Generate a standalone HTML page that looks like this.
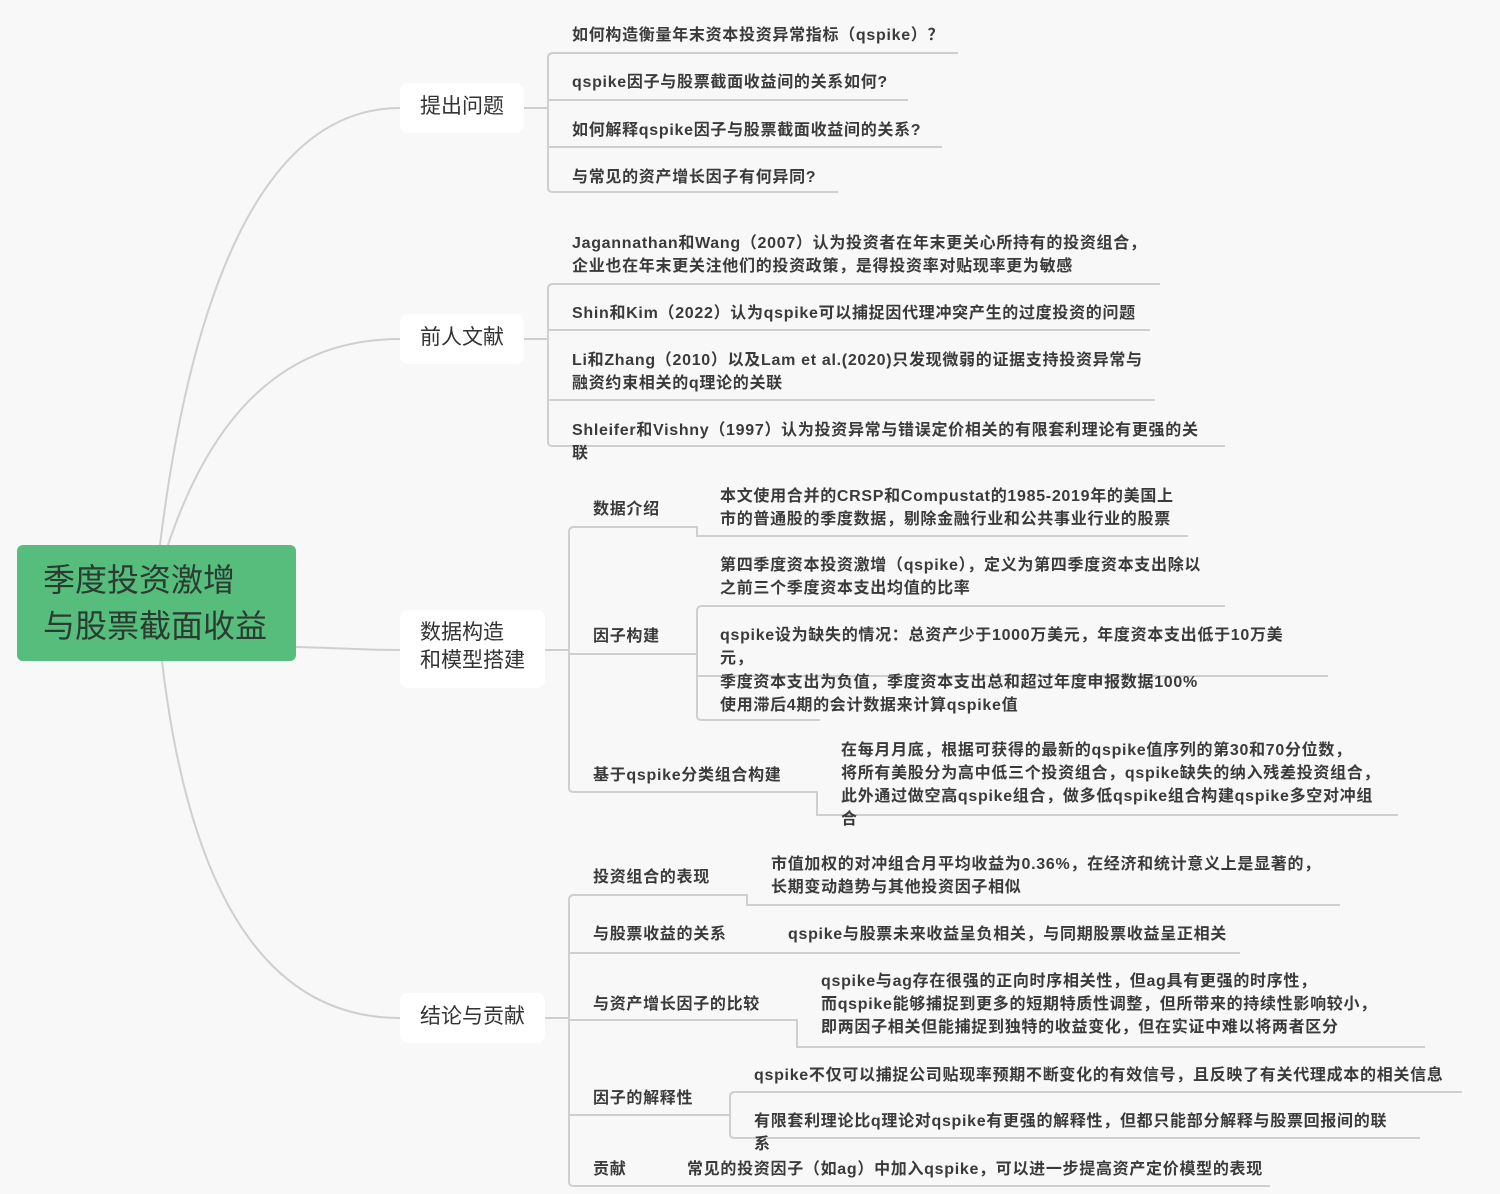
<!DOCTYPE html>
<html><head><meta charset="utf-8"><style>
body{margin:0;width:1500px;height:1194px;background:#f8f8f8;position:relative;overflow:hidden;font-family:"Liberation Sans","Noto Sans CJK SC",sans-serif;color:#333}
.t{position:absolute;font-size:16px;letter-spacing:0.7px;line-height:23px;white-space:nowrap;font-weight:bold;color:#3a3a3a}
.n{position:absolute;background:#fff;border-radius:8px;font-size:21px;line-height:28px;color:#333;padding:0}
svg{position:absolute;left:0;top:0}
</style></head><body>
<svg width="1500" height="1194" fill="none" stroke="#cfcfcf" stroke-width="2">
<path d="M160 545 C190 300 260 108 400 108"/>
<path d="M168 545 C210 420 280 339 400 339"/>
<path d="M296 647 C340 648 360 650 400 650"/>
<path d="M162 661 C190 900 270 1018 400 1018"/>
<path d="M524 108 H548"/><path d="M524 339 H548"/><path d="M545 650 H569"/><path d="M545 1018 H569"/>
<path d="M548 190 V58 Q548 53 553 53 H958"/><path d="M548 100 H908"/><path d="M548 147 H942"/><path d="M548 188 Q548 192 553 192 H838"/>
<path d="M548 442 V289 Q548 284 553 284 H1160"/><path d="M548 330 H1150"/><path d="M548 400 H1155"/><path d="M548 442 Q548 446 553 446 H1225"/>
<path d="M569 788 V532 Q569 527 574 527 H697 V536 H1188"/>
<path d="M569 654 H697"/>
<path d="M697 716 V611 Q697 606 702 606 H1225"/><path d="M697 676 H1328"/><path d="M697 716 Q697 720 702 720 H820"/>
<path d="M569 788 Q569 792 574 792 H817 V815 H1398"/>
<path d="M569 1182 V900 Q569 895 574 895 H747 V905 H1340"/>
<path d="M569 953 H1240"/>
<path d="M569 1020 H797 V1047 H1425"/>
<path d="M569 1115 H730"/>
<path d="M730 1134 V1097 Q730 1092 735 1092 H1462"/><path d="M730 1134 Q730 1138 735 1138 H1420"/>
<path d="M569 1182 Q569 1186 574 1186 H1270"/>
</svg>
<div style="position:absolute;left:17px;top:545px;width:279px;height:116px;background:#56bd7d;border-radius:6px"></div>
<div style="position:absolute;left:43px;top:557px;font-size:32px;line-height:46px;color:#2a3b30">季度投资激增<br>与股票截面收益</div>
<div class="n" style="left:400px;top:83px;width:124px;height:50px;"><div style="padding:10px 20px">提出问题</div></div>
<div class="n" style="left:400px;top:314px;width:124px;height:50px;"><div style="padding:10px 20px">前人文献</div></div>
<div class="n" style="left:400px;top:610px;width:145px;height:78px;"><div style="padding:9px 20px">数据构造<br>和模型搭建</div></div>
<div class="n" style="left:400px;top:993px;width:145px;height:50px;"><div style="padding:10px 20px">结论与贡献</div></div>

<div class="t" style="left:572px;top:24px">如何构造衡量年末资本投资异常指标（qspike）？</div>
<div class="t" style="left:572px;top:71px">qspike因子与股票截面收益间的关系如何?</div>
<div class="t" style="left:572px;top:119px">如何解释qspike因子与股票截面收益间的关系?</div>
<div class="t" style="left:572px;top:166px">与常见的资产增长因子有何异同?</div>

<div class="t" style="left:572px;top:232px">Jagannathan和Wang（2007）认为投资者在年末更关心所持有的投资组合，<br>企业也在年末更关注他们的投资政策，是得投资率对贴现率更为敏感</div>
<div class="t" style="left:572px;top:302px">Shin和Kim（2022）认为qspike可以捕捉因代理冲突产生的过度投资的问题</div>
<div class="t" style="left:572px;top:349px">Li和Zhang（2010）以及Lam et al.(2020)只发现微弱的证据支持投资异常与<br>融资约束相关的q理论的关联</div>
<div class="t" style="left:572px;top:419px">Shleifer和Vishny（1997）认为投资异常与错误定价相关的有限套利理论有更强的关<br>联</div>

<div class="t" style="left:593px;top:498px">数据介绍</div>
<div class="t" style="left:720px;top:485px">本文使用合并的CRSP和Compustat的1985-2019年的美国上<br>市的普通股的季度数据，剔除金融行业和公共事业行业的股票</div>
<div class="t" style="left:593px;top:625px">因子构建</div>
<div class="t" style="left:720px;top:554px">第四季度资本投资激增（qspike），定义为第四季度资本支出除以<br>之前三个季度资本支出均值的比率</div>
<div class="t" style="left:720px;top:624px">qspike设为缺失的情况：总资产少于1000万美元，年度资本支出低于10万美<br>元，</div>
<div class="t" style="left:720px;top:671px">季度资本支出为负值，季度资本支出总和超过年度申报数据100%<br>使用滞后4期的会计数据来计算qspike值</div>
<div class="t" style="left:593px;top:764px">基于qspike分类组合构建</div>
<div class="t" style="left:841px;top:739px">在每月月底，根据可获得的最新的qspike值序列的第30和70分位数，<br>将所有美股分为高中低三个投资组合，qspike缺失的纳入残差投资组合，<br>此外通过做空高qspike组合，做多低qspike组合构建qspike多空对冲组<br>合</div>

<div class="t" style="left:593px;top:866px">投资组合的表现</div>
<div class="t" style="left:771px;top:853px">市值加权的对冲组合月平均收益为0.36%，在经济和统计意义上是显著的，<br>长期变动趋势与其他投资因子相似</div>
<div class="t" style="left:593px;top:923px">与股票收益的关系</div>
<div class="t" style="left:788px;top:923px">qspike与股票未来收益呈负相关，与同期股票收益呈正相关</div>
<div class="t" style="left:593px;top:993px">与资产增长因子的比较</div>
<div class="t" style="left:821px;top:970px">qspike与ag存在很强的正向时序相关性，但ag具有更强的时序性，<br>而qspike能够捕捉到更多的短期特质性调整，但所带来的持续性影响较小，<br>即两因子相关但能捕捉到独特的收益变化，但在实证中难以将两者区分</div>
<div class="t" style="left:593px;top:1087px">因子的解释性</div>
<div class="t" style="left:754px;top:1064px">qspike不仅可以捕捉公司贴现率预期不断变化的有效信号，且反映了有关代理成本的相关信息</div>
<div class="t" style="left:754px;top:1110px">有限套利理论比q理论对qspike有更强的解释性，但都只能部分解释与股票回报间的联<br>系</div>
<div class="t" style="left:593px;top:1158px">贡献</div>
<div class="t" style="left:687px;top:1158px">常见的投资因子（如ag）中加入qspike，可以进一步提高资产定价模型的表现</div>
</body></html>
